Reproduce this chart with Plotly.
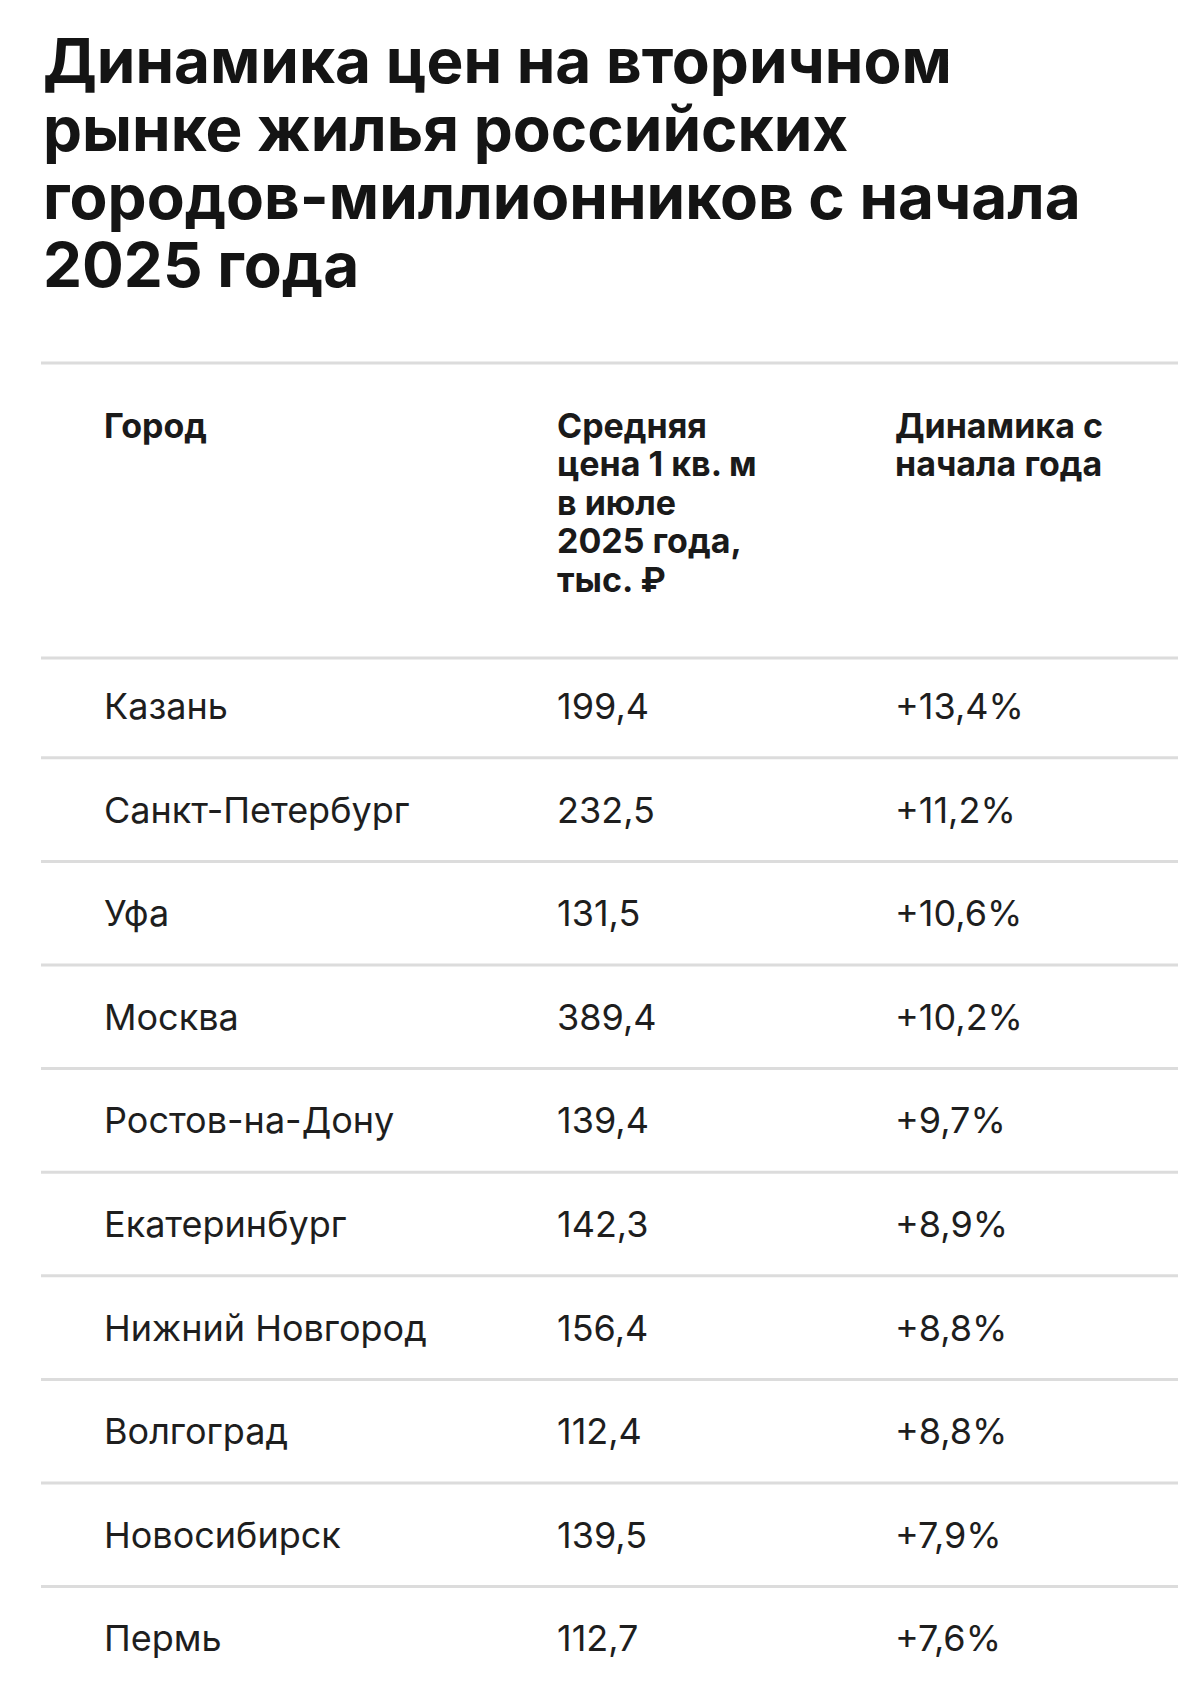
import plotly.graph_objects as go

title_lines = ["Динамика цен на вторичном", "рынке жилья российских",
               "городов-миллионников с начала", "2025 года"]
headers = [["Город"],
           ["Средняя", "цена 1 кв. м", "в июле", "2025 года,", "тыс. ₽"],
           ["Динамика с", "начала года"]]
cities = ["Казань", "Санкт-Петербург", "Уфа", "Москва", "Ростов-на-Дону",
          "Екатеринбург", "Нижний Новгород", "Волгоград", "Новосибирск", "Пермь"]
prices = ["199,4", "232,5", "131,5", "389,4", "139,4", "142,3", "156,4", "112,4", "139,5", "112,7"]
changes = ["+13,4%", "+11,2%", "+10,6%", "+10,2%", "+9,7%", "+8,9%", "+8,8%", "+8,8%", "+7,9%", "+7,6%"]

W, H = 1200, 1682
col_x = [94, 547, 885]
left, right = 33, 1170
row_y0, row_h = 698, 103.6

fig = go.Figure()
fig.update_layout(
    width=W, height=H, margin=dict(l=0, r=0, t=0, b=0),
    plot_bgcolor="white", paper_bgcolor="#9a9a9a",
    xaxis=dict(range=[0, W], visible=False, fixedrange=True),
    yaxis=dict(range=[H, 0], visible=False, fixedrange=True),
    font=dict(family="Inter, Roboto, sans-serif", color="#1a1a1a"),
    showlegend=False,
)

# white card with gray frame
fig.add_shape(type="rect", x0=6, x1=W - 14, y0=6, y1=H - 22,
              fillcolor="white", line=dict(width=0), layer="below")

for i, t in enumerate(title_lines):
    fig.add_annotation(x=33, y=52 + i * 68, xanchor="left", yanchor="middle", showarrow=False,
                       text="<b>" + t + "</b>",
                       font=dict(size=62, color="#141414"))

line_col = "#dcdcdc"
for ly in (355, 650):
    fig.add_shape(type="line", x0=left, x1=right, y0=ly, y1=ly, line=dict(color=line_col, width=3))

for x, hl in zip(col_x, headers):
    for j, t in enumerate(hl):
        fig.add_annotation(x=x, y=417 + j * 38.6, xanchor="left", yanchor="middle", showarrow=False,
                           text="<b>" + t + "</b>", font=dict(size=34, color="#1a1a1a"))

for i, (c, p, d) in enumerate(zip(cities, prices, changes)):
    y = row_y0 + i * row_h
    for x, t in zip(col_x, (c, p, d)):
        fig.add_annotation(x=x, y=y, xanchor="left", yanchor="middle", showarrow=False,
                           text=t, font=dict(size=36, color="#1e1e1e"))
    if i < len(cities) - 1:
        ly = y + row_h / 2
        fig.add_shape(type="line", x0=left, x1=right, y0=ly, y1=ly,
                      line=dict(color=line_col, width=3))

fig.write_html("out.html")
